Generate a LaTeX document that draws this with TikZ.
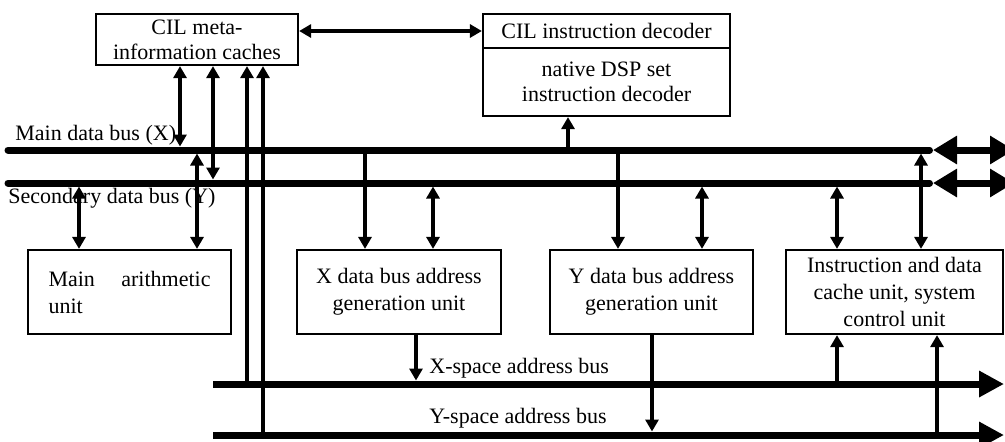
\documentclass[tikz,border=0pt]{standalone}
\usepackage{fontspec}
\setmainfont{Liberation Serif}
\usetikzlibrary{arrows.meta}

\begin{document}
\begin{tikzpicture}[x=0.5pt,y=-0.5pt,
  font=\fontsize{11}{12.5}\selectfont,
  >={Triangle[length=6pt,width=6.5pt]},
  box/.style={draw,line width=1.1pt,inner sep=0pt,align=center},
  lowbox/.style={box,minimum height=42pt,font=\fontsize{11}{13.5}\selectfont},
  wire/.style={line width=1.8pt},
  bus/.style={line width=3.5pt},
  bighead/.style={{Triangle[length=12pt,width=13.5pt]}-{Triangle[length=12pt,width=13.5pt]}},
  tobus/.style={shorten >=1.75pt}]
\useasboundingbox (0,0) rectangle (1005,441);

\node[box,minimum width=101pt,minimum height=25.5pt] (cache) at (197,39.5) {CIL meta-\\information caches};
\node[box,minimum width=123.5pt,minimum height=17pt] (dechead) at (606.5,31) {CIL instruction decoder};
\node[box,minimum width=123.5pt,minimum height=34pt] (decbody) at (606.5,82) {native DSP set\\instruction decoder};

\node[lowbox,minimum width=101.5pt,text width=81pt,align=left] (mau) at (129.5,292) {Main\hfill arithmetic\\unit};
\node[lowbox,minimum width=102pt] (xagu) at (399,292) {X data bus address\\generation unit};
\node[lowbox,minimum width=101.5pt] (yagu) at (651.5,292) {Y data bus address\\generation unit};
\node[lowbox,minimum width=108.5pt] (icu) at (894.5,292) {Instruction and data\\cache unit, system\\control unit};

\node[anchor=base west,inner sep=0pt] (mblab) at (15,140) {Main data bus (X)};
\node[anchor=base west,inner sep=0pt] (sblab) at (8,203) {Secondary data bus (Y)};
\node[anchor=base west,inner sep=0pt] (xalab) at (429,373) {X-space address bus};
\node[anchor=base west,inner sep=0pt] (yalab) at (429,423) {Y-space address bus};

\coordinate (mbL) at (8,150); \coordinate (mbM) at (933,150); \coordinate (mbR) at (1014,150);
\coordinate (sbL) at (8,183); \coordinate (sbM) at (933,183); \coordinate (sbR) at (1014,183);
\coordinate (xaL) at (213,384); \coordinate (xaR) at (1004,384);
\coordinate (yaL) at (213,435); \coordinate (yaR) at (1004,435);

\draw[bus,line cap=round,shorten >=1.75pt] (mbL) -- (mbM);
\draw[bus,bighead] (mbM) -- (mbR);
\draw[bus,line cap=round,shorten >=1.75pt] (sbL) -- (sbM);
\draw[bus,bighead] (sbM) -- (sbR);
\draw[bus,-{Triangle[length=12.5pt,width=12.5pt]}] (xaL) -- (xaR);
\draw[bus,-{Triangle[length=12.5pt,width=12.5pt]}] (yaL) -- (yaR);

\draw[wire,<->] (cache.east |- dechead) -- (dechead.west);
\draw[wire,<->,tobus] (180,0 |- cache.south) -- (180,0 |- mbL);
\draw[wire,<->,tobus] (213,0 |- cache.south) -- (213,0 |- sbL);
\draw[wire,->] (247,0 |- xaL) -- (247,0 |- cache.south);
\draw[wire,->] (263,0 |- yaL) -- (263,0 |- cache.south);
\draw[wire,<->,tobus] (79,0 |- mau.north) -- (79,0 |- sbL);
\draw[wire,<->,tobus] (197,0 |- mau.north) -- (197,0 |- mbL);
\draw[wire,->] (365,0 |- mbL) -- (365,0 |- xagu.north);
\draw[wire,<->,tobus] (433,0 |- xagu.north) -- (433,0 |- sbL);
\draw[wire,->,tobus] (416,0 |- xagu.south) -- (416,0 |- xaL);
\draw[wire,->] (568,0 |- mbL) -- (568,0 |- decbody.south);
\draw[wire,->] (618,0 |- mbL) -- (618,0 |- yagu.north);
\draw[wire,<->,tobus] (702,0 |- yagu.north) -- (702,0 |- sbL);
\draw[wire,->,tobus] (652,0 |- yagu.south) -- (652,0 |- yaL);
\draw[wire,<->,tobus] (837,0 |- icu.north) -- (837,0 |- sbL);
\draw[wire,<->,tobus] (921,0 |- icu.north) -- (921,0 |- mbL);
\draw[wire,->] (837,0 |- xaL) -- (837,0 |- icu.south);
\draw[wire,->] (937,0 |- yaL) -- (937,0 |- icu.south);
\end{tikzpicture}
\end{document}
